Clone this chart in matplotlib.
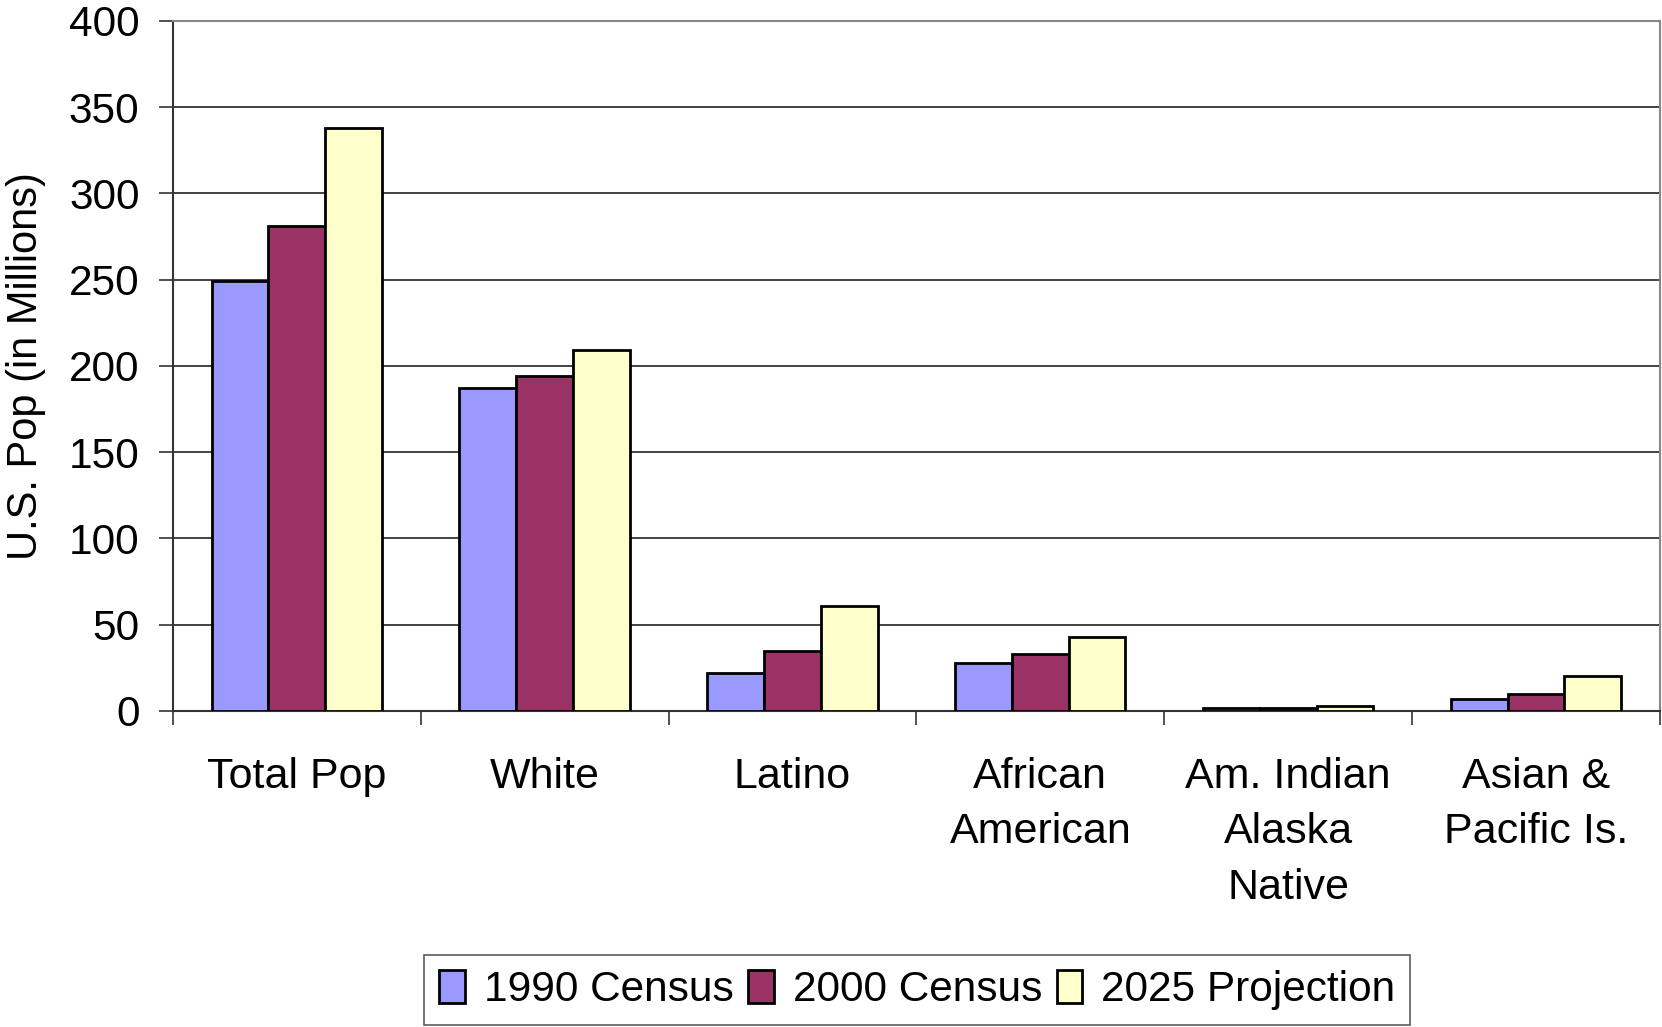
import matplotlib
matplotlib.use("Agg")
import matplotlib.pyplot as plt
import numpy as np

plt.rcParams['font.family'] = ['Liberation Sans', 'DejaVu Sans']

categories = ["Total Pop", "White", "Latino", "African\nAmerican",
              "Am. Indian\nAlaska\nNative", "Asian &\nPacific Is."]
series_names = ["1990 Census", "2000 Census", "2025 Projection"]
census_1990 = [249, 187, 22, 28, 2, 7]
census_2000 = [281, 194, 35, 33, 2, 10]
projection_2025 = [338, 209, 61, 43, 3, 20]
yticks = [0, 50, 100, 150, 200, 250, 300, 350, 400]

colors = ["#9999FF", "#993366", "#FFFFCC"]
series = [census_1990, census_2000, projection_2025]

fig = plt.figure(figsize=(16.62, 10.27), dpi=100)
ax = fig.add_axes([0.104, 0.3077, 0.8948, 0.6719])

n = len(categories)
x = np.arange(n)
bw = 0.229
for i, (vals, c, name) in enumerate(zip(series, colors, series_names)):
    ax.bar(x + (i - 1) * bw, vals, width=bw, color=c, edgecolor="black",
           linewidth=2, label=name, zorder=3)

ax.set_xlim(-0.5, n - 0.5)
ax.set_ylim(0, 400)
ax.set_yticks(yticks)
ax.set_yticklabels([str(t) for t in yticks], fontsize=30.5)
ax.yaxis.grid(True, color="#222222", linewidth=1.2, zorder=0)
ax.set_axisbelow(True)

ax.set_xticks(np.arange(n + 1) - 0.5)
ax.set_xticklabels([])
ax.set_xticks(x, minor=True)
ax.set_xticklabels(categories, minor=True, fontsize=31, linespacing=1.5)
ax.tick_params(axis='x', which='minor', length=0, pad=33)
ax.tick_params(axis='x', which='major', length=10, width=1.2, color="#333333")
ax.tick_params(axis='y', length=10, width=1.2, color="#333333", pad=14)

for s in ["left", "bottom"]:
    ax.spines[s].set_color("#333333")
    ax.spines[s].set_linewidth(1.5)
for s in ["top", "right"]:
    ax.spines[s].set_color("#888888")
    ax.spines[s].set_linewidth(1.5)

ax.set_ylabel("U.S. Pop (in Millions)", fontsize=30)
ax.yaxis.set_label_coords(-0.085, 0.5)

leg = fig.legend(loc="center", bbox_to_anchor=(0.552, 0.036), ncol=3,
                 fontsize=30.5, frameon=True, fancybox=False, edgecolor="#333333",
                 handlelength=0.6, handleheight=0.8, handletextpad=0.45,
                 columnspacing=0.35, borderpad=0.35, borderaxespad=0)
leg.get_frame().set_linewidth(1.2)

fig.savefig("out.png", dpi=100)
